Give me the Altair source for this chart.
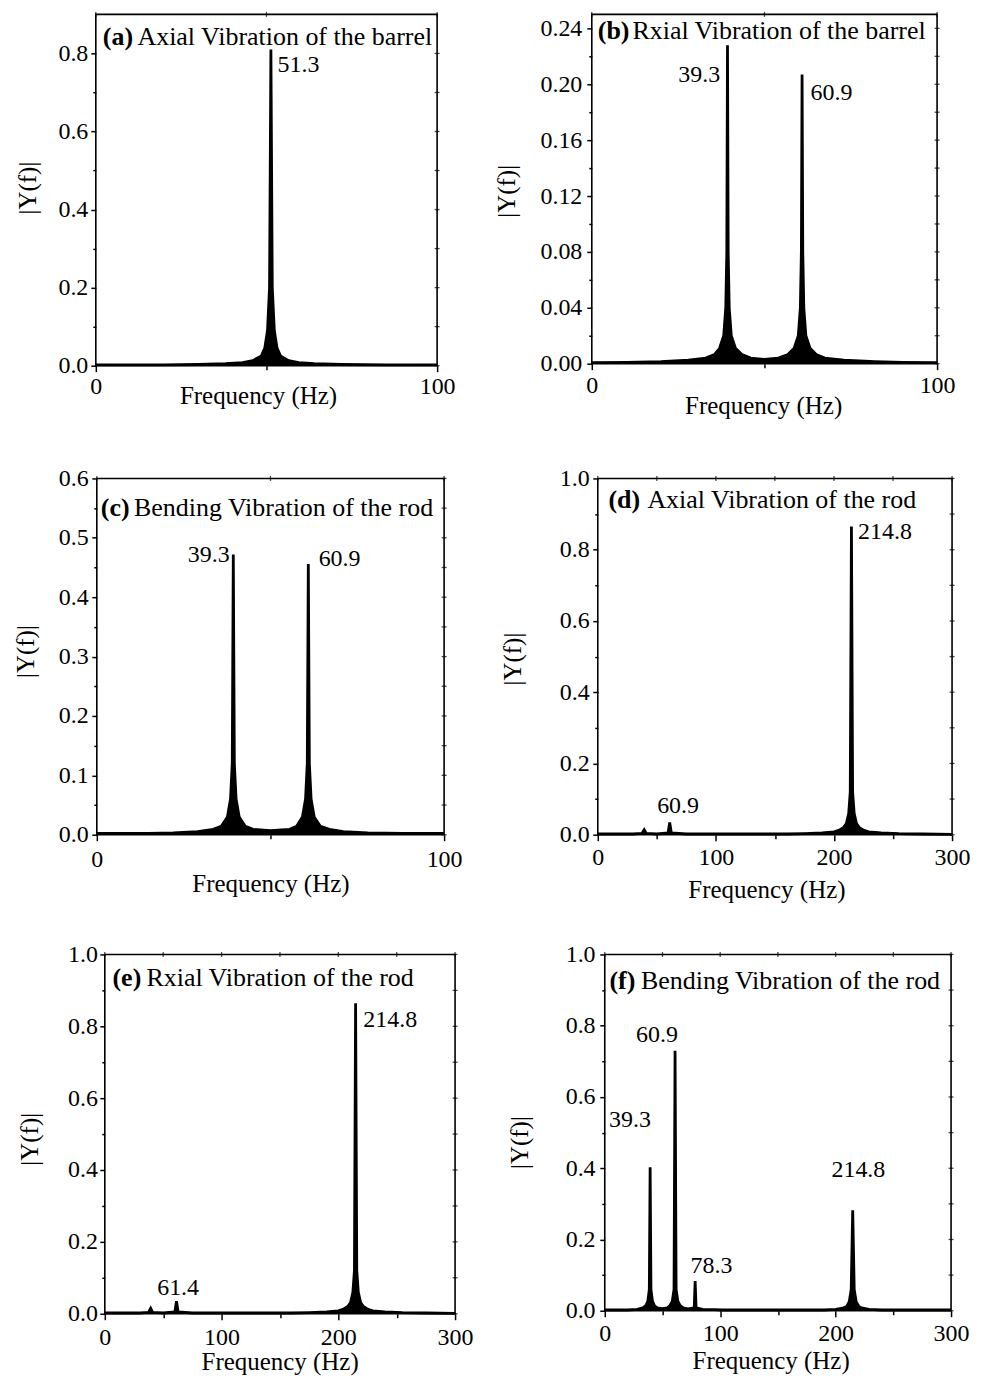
import altair as alt
import pandas as pd

FONT = "Liberation Serif"

# ---------------- spectra ----------------
a_freq = [0, 20, 30, 38, 43, 46, 48.5, 49.5, 50.3, 50.9, 51.3, 51.7, 52.3, 53.1, 54.1, 56.5, 59.5, 64, 72, 85, 100]
a_amp = [0.002, 0.002, 0.003, 0.005, 0.008, 0.013, 0.025, 0.045, 0.09, 0.2, 0.81, 0.2, 0.09, 0.045, 0.025, 0.013, 0.008, 0.005, 0.003, 0.002, 0.002]

b_freq = [0, 10, 20, 28, 33, 35.5, 37, 38.2, 38.8, 39.1, 39.3, 39.5, 39.8, 40.4, 41.6, 43.5, 46, 50,
          54, 56.8, 58.6, 59.8, 60.4, 60.7, 60.9, 61.1, 61.4, 62, 63.2, 65, 67.5, 73, 82, 90, 100]
b_amp = [0.0008, 0.001, 0.0015, 0.0025, 0.004, 0.0065, 0.011, 0.02, 0.04, 0.08, 0.228, 0.08, 0.04, 0.02, 0.011, 0.0065, 0.004, 0.003,
         0.004, 0.0065, 0.011, 0.02, 0.04, 0.08, 0.207, 0.08, 0.04, 0.02, 0.011, 0.0065, 0.004, 0.0025, 0.0015, 0.001, 0.0008]

c_freq = [0, 15, 22, 29, 33.5, 35.8, 37.6, 38.5, 39.0, 39.3, 39.6, 40.1, 41.0, 42.8, 45, 50,
          55.5, 57.5, 59.2, 60.1, 60.6, 60.9, 61.2, 61.7, 62.6, 64.4, 67, 71, 78, 88, 100]
c_amp = [0.002, 0.002, 0.003, 0.005, 0.009, 0.014, 0.03, 0.06, 0.12, 0.472, 0.12, 0.06, 0.03, 0.014, 0.009, 0.007,
         0.009, 0.014, 0.03, 0.06, 0.12, 0.456, 0.12, 0.06, 0.03, 0.014, 0.009, 0.005, 0.003, 0.002, 0.002]

d_freq = [0, 30, 37.5, 39.3, 41, 50, 59.5, 60.9, 62.3, 75, 160, 175, 190, 200, 204, 208, 210.5, 212.5, 213.8,
          214.8, 215.8, 217.1, 219.1, 221.5, 225.5, 229.5, 240, 255, 275, 300]
d_amp = [0.002, 0.002, 0.004, 0.014, 0.004, 0.002, 0.005, 0.034, 0.005, 0.002, 0.002, 0.003, 0.005, 0.008, 0.012, 0.02, 0.031, 0.06, 0.12,
         0.865, 0.12, 0.06, 0.031, 0.02, 0.012, 0.008, 0.005, 0.003, 0.002, 0.001]

e_freq = [0, 30, 37.5, 39.3, 41, 50, 60, 61.4, 62.8, 75, 160, 175, 190, 200, 204, 208, 210.5, 212.5, 213.8,
          214.8, 215.8, 217.1, 219.1, 221.5, 225.5, 229.5, 240, 255, 275, 300]
e_amp = [0.002, 0.002, 0.004, 0.015, 0.004, 0.002, 0.005, 0.035, 0.005, 0.002, 0.002, 0.003, 0.005, 0.008, 0.012, 0.02, 0.031, 0.06, 0.12,
         0.864, 0.12, 0.06, 0.031, 0.02, 0.012, 0.008, 0.005, 0.003, 0.002, 0.001]

f_freq = [0, 20, 28, 33, 35.5, 37.3, 38.6, 39.3, 40.0, 41.3, 43.1, 45.5, 50, 54, 56.5, 58.5, 60.0, 60.9, 61.8, 63.3,
          65.3, 68, 72, 77.5, 78.3, 79.1, 85, 95, 102, 190, 200, 207, 209.5, 211.8, 213.5, 214.8, 216.1, 217.8,
          220.1, 222.5, 229, 240, 300]
f_amp = [0.002, 0.002, 0.004, 0.008, 0.014, 0.027, 0.06, 0.403, 0.06, 0.027, 0.014, 0.008, 0.006, 0.008, 0.014, 0.027, 0.06, 0.730, 0.06, 0.027,
         0.014, 0.008, 0.005, 0.008, 0.083, 0.008, 0.004, 0.003, 0.002, 0.002, 0.004, 0.008, 0.012, 0.025, 0.06, 0.282, 0.06, 0.025,
         0.012, 0.008, 0.004, 0.002, 0.002]

# ---------------- peak labels (text centre, baseline; data units) ----------------
a_lab_t, a_lab_x, a_lab_y = ["51.3"], [59.4], [0.752]
b_lab_t, b_lab_x, b_lab_y = ["39.3", "60.9"], [31.1, 69.4], [0.2018, 0.189]
c_lab_t, c_lab_x, c_lab_y = ["39.3", "60.9"], [32.2, 69.9], [0.459, 0.4517]
d_lab_t, d_lab_x, d_lab_y = ["214.8", "60.9"], [243.2, 68.0], [0.830, 0.062]
e_lab_t, e_lab_x, e_lab_y = ["214.8", "61.4"], [244.4, 62.8], [0.799, 0.052]
f_lab_t, f_lab_x, f_lab_y = ["39.3", "60.9", "78.3", "214.8"], [21.9, 45.2, 92.5, 219.7], [0.515, 0.755, 0.1045, 0.375]

titles_bold = ["(a)", "(b)", "(c)", "(d)", "(e)", "(f)"]
titles_rest = ["Axial Vibration of the barrel", "Rxial Vibration of the barrel",
               "Bending Vibration of the rod", "Axial Vibration of the rod",
               "Rxial Vibration of the rod", "Bending Vibration of the rod"]

x_title = "Frequency (Hz)"
y_title = "|Y(f)|"

# tick values
x100_major, x100_minor = [0, 100], [50]
x300_major, x300_minor = [0, 100, 200, 300], [50, 150, 250]
ya_major, ya_minor = [0, 0.2, 0.4, 0.6, 0.8], [0.1, 0.3, 0.5, 0.7]
yb_major, yb_minor = [0, 0.04, 0.08, 0.12, 0.16, 0.20, 0.24], [0.02, 0.06, 0.10, 0.14, 0.18, 0.22]
yc_major, yc_minor = [0, 0.1, 0.2, 0.3, 0.4, 0.5, 0.6], [0.05, 0.15, 0.25, 0.35, 0.45, 0.55]
y1_major, y1_minor = [0, 0.2, 0.4, 0.6, 0.8, 1.0], [0.1, 0.3, 0.5, 0.7, 0.9]


def panel(freq, amp, lt, lx, ly, bold, rest, xdom, xmaj, xmin, ydom, ymaj, ymin, yfmt, lay):
    W, H = lay["W"], lay["H"]
    spec = pd.DataFrame({"f": freq, "a": amp})
    ann = pd.DataFrame({"f": lx, "a": ly, "t": lt})
    xs = alt.Scale(domain=xdom, nice=False, zero=False)
    ys = alt.Scale(domain=ydom, nice=False, zero=False)

    area = alt.Chart(spec).mark_area(color="black", opacity=1).encode(
        x=alt.X("f:Q", scale=xs, axis=alt.Axis(
            orient="bottom", values=xmaj, tickSize=6, labelPadding=lay["xlp"], format="d",
            labelFlush=False, labelOverlap=False, title=x_title,
            titleX=lay["xtx"], titleY=lay["xty"], titleBaseline="alphabetic", titleAlign="center")),
        y=alt.Y("a:Q", scale=ys, axis=alt.Axis(
            orient="left", values=ymaj, tickSize=5, labelPadding=lay["ylp"], format=yfmt,
            labelFlush=False, labelOverlap=False, title=y_title,
            titleX=lay["ytx"], titleY=lay["yty"], titleBaseline="middle", titleAlign="center",
            titleAngle=270)),
    )
    line = alt.Chart(spec).mark_line(color="black", strokeWidth=2.8).encode(
        x=alt.X("f:Q", scale=xs, axis=None),
        y=alt.Y("a:Q", scale=ys, axis=None),
    )
    labels = alt.Chart(ann).mark_text(
        font=FONT, fontSize=24, align="center", baseline="alphabetic", color="black"
    ).encode(
        x=alt.X("f:Q", scale=xs, axis=alt.Axis(orient="bottom", values=xmin, tickSize=4,
                                               labels=False, title=None)),
        y=alt.Y("a:Q", scale=ys, axis=alt.Axis(orient="left", values=ymin, tickSize=3,
                                               labels=False, title=None)),
        text="t:N",
    )
    top_ticks = alt.Chart(pd.DataFrame({"v": xmaj + xmin})).mark_tick(
        color="black", thickness=1.3, size=5
    ).encode(x=alt.X("v:Q", scale=xs, axis=None), y=alt.value(0))
    right_ticks = alt.Chart(pd.DataFrame({"v": ymaj + ymin})).mark_tick(
        color="black", thickness=1.3, size=5
    ).encode(y=alt.Y("v:Q", scale=ys, axis=None), x=alt.value(W))
    t_bold = alt.Chart(pd.DataFrame({"t": [bold]})).mark_text(
        font=FONT, fontSize=26, fontWeight="bold", align="left", baseline="alphabetic", color="black"
    ).encode(x=alt.value(lay["bx"]), y=alt.value(lay["ty"]), text="t:N")
    t_rest = alt.Chart(pd.DataFrame({"t": [rest]})).mark_text(
        font=FONT, fontSize=26, align="left", baseline="alphabetic", color="black"
    ).encode(x=alt.value(lay["rx"]), y=alt.value(lay["ty"]), text="t:N")
    spacer = alt.Chart(pd.DataFrame({"t": [0]})).mark_rule(opacity=0, strokeWidth=0).encode(
        x=alt.value(lay["L"]), x2=alt.value(lay["R"]), y=alt.value(lay["T"]), y2=alt.value(lay["B"])
    )
    return alt.layer(area, line, labels, top_ticks, right_ticks, t_bold, t_rest, spacer).resolve_axis(
        x="independent", y="independent").properties(width=W, height=H)


def gap(w):
    # invisible leading cell that sets where a row's first panel starts
    return alt.Chart(pd.DataFrame({"t": [0]})).mark_rule(opacity=0, strokeWidth=0).encode(
        x=alt.value(0), x2=alt.value(1), y=alt.value(0)
    ).properties(width=w, height=1, view=alt.ViewBackground(stroke="transparent", strokeWidth=0))


lay_a = dict(W=342, H=352, xlp=3, ylp=3, xtx=162.5, xty=38, ytx=-68, yty=173.5, bx=7, rx=41.7, ty=31,
             L=-84, R=393, T=-4, B=448)
lay_b = dict(W=346, H=350, xlp=4, ylp=5, xtx=171.7, xty=50, ytx=-85, yty=176.8, bx=6, rx=40.7, ty=25,
             L=-102, R=346, T=-4, B=448)
lay_c = dict(W=348, H=357, xlp=7, ylp=3.7, xtx=174, xty=57, ytx=-71.5, yty=173, bx=4, rx=37.3, ty=37.3,
             L=-87, R=398, T=-15, B=460)
lay_d = dict(W=355, H=357, xlp=5, ylp=3.7, xtx=169, xty=62.7, ytx=-85, yty=180.5, bx=10.7, rx=49.7, ty=29.7,
             L=-102, R=355, T=-15, B=460)
lay_e = dict(W=351, H=360, xlp=5.7, ylp=2.3, xtx=175.2, xty=56, ytx=-75, yty=184.7, bx=7.7, rx=41.7, ty=32,
             L=-95, R=397, T=-15, B=360)
lay_f = dict(W=347, H=357, xlp=5.3, ylp=4.7, xtx=166.2, xty=58, ytx=-85, yty=188, bx=4.7, rx=36.3, ty=34.7,
             L=-102, R=347, T=-15, B=357)

pa = panel(a_freq, a_amp, a_lab_t, a_lab_x, a_lab_y, titles_bold[0], titles_rest[0],
           [0, 100], x100_major, x100_minor, [0, 0.9], ya_major, ya_minor, ".1f", lay_a)
pb = panel(b_freq, b_amp, b_lab_t, b_lab_x, b_lab_y, titles_bold[1], titles_rest[1],
           [0, 100], x100_major, x100_minor, [0, 0.25], yb_major, yb_minor, ".2f", lay_b)
pc = panel(c_freq, c_amp, c_lab_t, c_lab_x, c_lab_y, titles_bold[2], titles_rest[2],
           [0, 100], x100_major, x100_minor, [0, 0.6], yc_major, yc_minor, ".1f", lay_c)
pd_ = panel(d_freq, d_amp, d_lab_t, d_lab_x, d_lab_y, titles_bold[3], titles_rest[3],
            [0, 300], x300_major, x300_minor, [0, 1.0], y1_major, y1_minor, ".1f", lay_d)
pe = panel(e_freq, e_amp, e_lab_t, e_lab_x, e_lab_y, titles_bold[4], titles_rest[4],
           [0, 300], x300_major, x300_minor, [0, 1.0], y1_major, y1_minor, ".1f", lay_e)
pf = panel(f_freq, f_amp, f_lab_t, f_lab_x, f_lab_y, titles_bold[5], titles_rest[5],
           [0, 300], x300_major, x300_minor, [0, 1.0], y1_major, y1_minor, ".1f", lay_f)

row1 = alt.HConcatChart(hconcat=[gap(3), pa, pb], spacing=0)
row2 = alt.HConcatChart(hconcat=[gap(1), pc, pd_], spacing=0)
row3 = alt.HConcatChart(hconcat=[gap(1), pe, pf], spacing=0)

chart = alt.VConcatChart(vconcat=[row1, row2, row3], spacing=0).properties(
    padding={"left": 0, "top": 0, "right": 5, "bottom": 0}
).configure_view(
    stroke="black", strokeWidth=1.6
).configure_axis(
    labelFont=FONT, titleFont=FONT, labelFontSize=24, titleFontSize=25,
    labelColor="black", titleColor="black", tickColor="black", tickWidth=1.5,
    domain=False, grid=False, titleFontWeight="normal", labelFontWeight="normal"
)

chart.save("out.html", embed_options={"renderer": "svg", "actions": False})
